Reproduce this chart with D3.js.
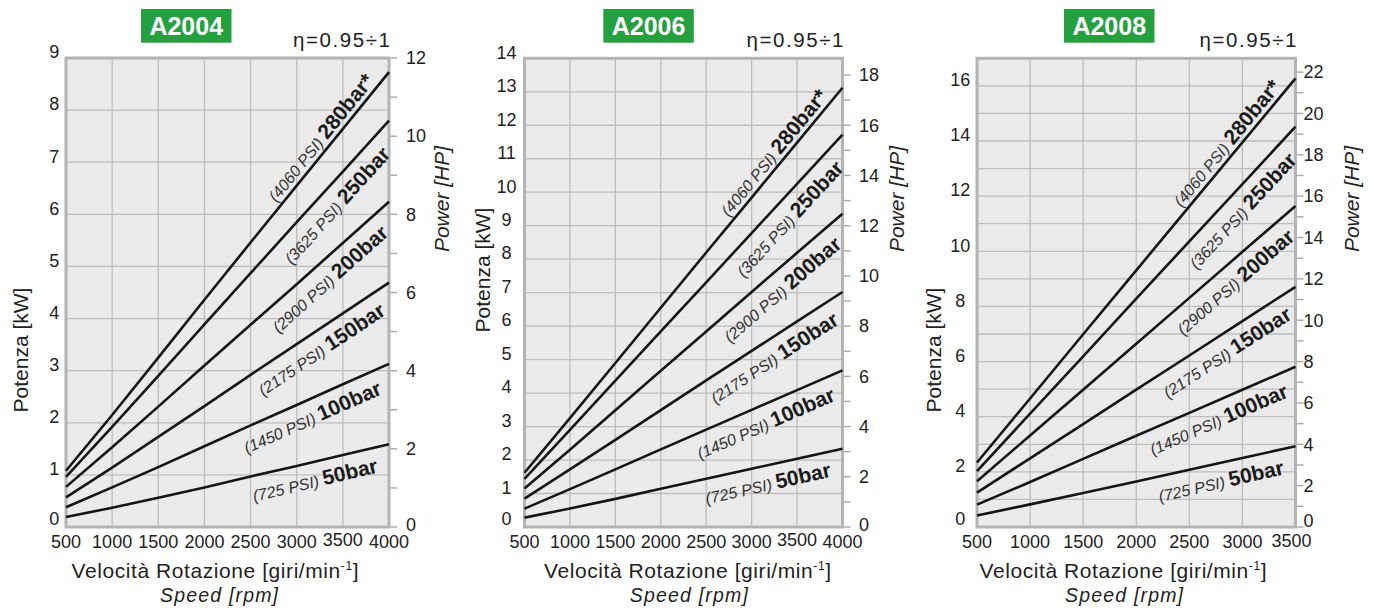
<!DOCTYPE html>
<html><head><meta charset="utf-8">
<script src="https://cdn.jsdelivr.net/npm/d3@7"></script>
<style>
body{margin:0;background:#fff;}
text{font-family:"Liberation Sans",Arial,Helvetica,sans-serif;}
</style>
</head><body>
<svg id="c" width="1377" height="610"></svg>
<script>
// ---------- DATA ----------
const modelNames = ["A2004", "A2006", "A2008"];
const psiLabels = ["(4060 PSI) ", "(3625 PSI) ", "(2900 PSI) ", "(2175 PSI) ", "(1450 PSI) ", "(725 PSI) "];
const barLabels = ["280bar*", "250bar", "200bar", "150bar", "100bar", "50bar"];
const efficiencyLabel = "η=0.95÷1";

const rpm4000 = [500, 1000, 1500, 2000, 2500, 3000, 3500, 4000];
const rpm3500 = [500, 1000, 1500, 2000, 2500, 3000, 3500];

// A2004 power [kW]
const A2004_280 = [1.08, 2.15, 3.25, 4.36, 5.46, 6.55, 7.64, 8.73];
const A2004_250 = [0.96, 1.92, 2.90, 3.89, 4.87, 5.85, 6.82, 7.80];
const A2004_200 = [0.77, 1.53, 2.31, 3.10, 3.88, 4.66, 5.45, 6.24];
const A2004_150 = [0.57, 1.14, 1.73, 2.32, 2.92, 3.51, 4.10, 4.69];
const A2004_100 = [0.38, 0.76, 1.15, 1.55, 1.95, 2.34, 2.74, 3.13];
const A2004_50  = [0.19, 0.37, 0.56, 0.76, 0.97, 1.17, 1.38, 1.59];

// A2006 power [kW]
const A2006_280 = [1.62, 3.25, 4.90, 6.55, 8.20, 9.84, 11.48, 13.12];
const A2006_250 = [1.44, 2.90, 4.37, 5.84, 7.31, 8.78, 10.25, 11.72];
const A2006_200 = [1.15, 2.31, 3.49, 4.67, 5.84, 7.02, 8.19, 9.36];
const A2006_150 = [0.85, 1.72, 2.60, 3.49, 4.38, 5.26, 6.14, 7.02];
const A2006_100 = [0.55, 1.13, 1.72, 2.32, 2.91, 3.50, 4.09, 4.68];
const A2006_50  = [0.28, 0.55, 0.84, 1.14, 1.44, 1.74, 2.04, 2.34];

// A2008 power [kW]
const A2008_280 = [2.34, 4.66, 6.99, 9.31, 11.63, 13.95, 16.27];
const A2008_250 = [2.03, 4.11, 6.19, 8.28, 10.36, 12.44, 14.52];
const A2008_200 = [1.66, 3.32, 4.98, 6.65, 8.31, 9.98, 11.64];
const A2008_150 = [1.25, 2.49, 3.73, 4.98, 6.22, 7.47, 8.71];
const A2008_100 = [0.81, 1.63, 2.47, 3.31, 4.14, 4.98, 5.81];
const A2008_50  = [0.42, 0.82, 1.23, 1.65, 2.08, 2.50, 2.93];

// axis ticks
const kwTicksA2004 = [0, 1, 2, 3, 4, 5, 6, 7, 8, 9];
const kwTicksA2006 = [0, 1, 2, 3, 4, 5, 6, 7, 8, 9, 10, 11, 12, 13, 14];
const kwGridA2008  = [0, 1, 2, 3, 4, 5, 6, 7, 8, 9, 10, 11, 12, 13, 14, 15, 16, 17];
const kwTicksA2008 = [0, 2, 4, 6, 8, 10, 12, 14, 16];
const hpTicksA2004 = [0, 1, 2, 3, 4, 5, 6, 7, 8, 9, 10, 11, 12];
const hpLabelsA2004 = [0, 2, 4, 6, 8, 10, 12];
const hpTicksA2006 = [0, 1, 2, 3, 4, 5, 6, 7, 8, 9, 10, 11, 12, 13, 14, 15, 16, 17, 18];
const hpLabelsA2006 = [0, 2, 4, 6, 8, 10, 12, 14, 16, 18];
const hpTicksA2008 = [0, 1, 2, 3, 4, 5, 6, 7, 8, 9, 10, 11, 12, 13, 14, 15, 16, 17, 18, 19, 20, 21, 22];
const hpLabelsA2008 = [0, 2, 4, 6, 8, 10, 12, 14, 16, 18, 20, 22];
const kwMaxes = [9, 14, 17];
const kwPerHp = 0.75;

// ---------- LAYOUT ----------
const panels = [
  {name: modelNames[0], rpm: rpm4000, series: [A2004_280, A2004_250, A2004_200, A2004_150, A2004_100, A2004_50],
   kwMax: kwMaxes[0], kwGrid: kwTicksA2004, kwLabels: kwTicksA2004, hpTicks: hpTicksA2004, hpLabels: hpLabelsA2004,
   x0: 66, x1: 389, y0: 527, y1: 58, boxX: 141, leftLabX: 54.3, hpLabX: 406, powerX: 441.7,
   potenzaX: 20.7, potenzaY: 350, velX: 215, speedX: 219, hp0Lift: 2, lastLabShift: 0, lastLabY: 545.5},
  {name: modelNames[1], rpm: rpm4000, series: [A2006_280, A2006_250, A2006_200, A2006_150, A2006_100, A2006_50],
   kwMax: kwMaxes[1], kwGrid: kwTicksA2006, kwLabels: kwTicksA2006, hpTicks: hpTicksA2006, hpLabels: hpLabelsA2006,
   x0: 524.5, x1: 842.5, y0: 527, y1: 58.3, boxX: 603.3, leftLabX: 506.5, hpLabX: 859, powerX: 896.7,
   potenzaX: 482.7, potenzaY: 270, velX: 687.5, speedX: 688.8, hp0Lift: 2, lastLabShift: 0, lastLabY: 545.5},
  {name: modelNames[2], rpm: rpm3500, series: [A2008_280, A2008_250, A2008_200, A2008_150, A2008_100, A2008_50],
   kwMax: kwMaxes[2], kwGrid: kwGridA2008, kwLabels: kwTicksA2008, hpTicks: hpTicksA2008, hpLabels: hpLabelsA2008,
   x0: 977, x1: 1295.5, y0: 527, y1: 58.3, boxX: 1064, leftLabX: 960.3, hpLabX: 1303.5, powerX: 1352,
   potenzaX: 933.7, potenzaY: 350, velX: 1123, speedX: 1124, hp0Lift: 6.5, lastLabShift: -4, lastLabY: 547}
];

const svg = d3.select("#c");
const TXT = "#222";
const TICK_FS = 18;

panels.forEach(p => {
  const g = svg.append("g");
  const x = d3.scaleLinear().domain(d3.extent(p.rpm)).range([p.x0, p.x1]);
  const y = d3.scaleLinear().domain([0, p.kwMax]).range([p.y0, p.y1]);
  const yHp = d3.scaleLinear().domain([0, p.kwMax / kwPerHp]).range([p.y0, p.y1]);

  // background
  g.append("rect").attr("x", p.x0).attr("y", p.y1).attr("width", p.x1 - p.x0).attr("height", p.y0 - p.y1)
    .attr("fill", "#ebebeb");
  // grid
  g.selectAll(".vg").data(p.rpm).join("line")
    .attr("x1", d => x(d)).attr("x2", d => x(d)).attr("y1", p.y1).attr("y2", p.y0)
    .attr("stroke", "#bebebe").attr("stroke-width", 1.3);
  g.selectAll(".hg").data(p.kwGrid).join("line")
    .attr("x1", p.x0).attr("x2", p.x1).attr("y1", d => y(d)).attr("y2", d => y(d))
    .attr("stroke", "#bebebe").attr("stroke-width", 1.3);
  // frame
  g.append("rect").attr("x", p.x0).attr("y", p.y1).attr("width", p.x1 - p.x0).attr("height", p.y0 - p.y1)
    .attr("fill", "none").attr("stroke", "#b4b4b4").attr("stroke-width", 3);

  // right HP ticks
  g.selectAll(".hpt").data(p.hpTicks).join("line")
    .attr("x1", p.x1 + 1.5).attr("x2", p.x1 + 8).attr("y1", d => yHp(d)).attr("y2", d => yHp(d))
    .attr("stroke", "#a8a8a8").attr("stroke-width", 1.4);
  g.selectAll(".hpl").data(p.hpLabels).join("text")
    .attr("x", p.hpLabX).attr("y", d => yHp(d) - (d === 0 ? p.hp0Lift : 0)).attr("dy", "0.35em")
    .attr("font-size", TICK_FS).attr("fill", TXT).text(d => d);

  // left kW labels
  g.selectAll(".kwl").data(p.kwLabels).join("text")
    .attr("x", p.leftLabX).attr("y", d => y(d) - (d === 0 ? 8 : 6)).attr("dy", "0.35em")
    .attr("text-anchor", "middle").attr("font-size", TICK_FS).attr("fill", TXT).text(d => d);

  // x labels (the 3500 label sits slightly higher in the original)
  const lastRpm = p.rpm[p.rpm.length - 1];
  g.selectAll(".xl").data(p.rpm).join("text")
    .attr("x", d => x(d) + (d === lastRpm ? p.lastLabShift : 0))
    .attr("y", d => d === 3500 ? p.lastLabY : 548)
    .attr("text-anchor", "middle").attr("font-size", TICK_FS).attr("fill", TXT).text(d => d);

  // series lines
  const line = d3.line().x((d, i) => x(p.rpm[i])).y(d => y(d));
  p.series.forEach((s, si) => {
    g.append("path").attr("d", line(s)).attr("fill", "none")
      .attr("stroke", "#151515").attr("stroke-width", 2.6).attr("stroke-linejoin", "round");
    // label along last segment
    const n = s.length;
    const xa = x(p.rpm[n - 2]), ya = y(s[n - 2]), xb = x(p.rpm[n - 1]), yb = y(s[n - 1]);
    const ang = Math.atan2(yb - ya, xb - xa) * 180 / Math.PI;
    const above = si === 0;
    const ax = p.x1 - (above ? 10 : 16);
    const ay = ya + (yb - ya) * (ax - xa) / (xb - xa);
    const t = g.append("text")
      .attr("transform", `translate(${ax},${ay}) rotate(${ang})`)
      .attr("x", 0).attr("y", above ? -5 : 25)
      .attr("text-anchor", "end");
    t.append("tspan").attr("font-style", "italic").attr("font-size", 16).attr("fill", "#333").text(psiLabels[si]);
    t.append("tspan").attr("font-weight", "bold").attr("font-size", 21).attr("fill", "#1a1a1a").text(barLabels[si]);
  });

  // title box
  g.append("rect").attr("x", p.boxX).attr("y", 9).attr("width", 90.5).attr("height", 33.7).attr("fill", "#24a040");
  g.append("text").attr("x", p.boxX + 45.25).attr("y", 35).attr("text-anchor", "middle")
    .attr("font-size", 25).attr("font-weight", "bold").attr("fill", "#fff").text(p.name);

  // efficiency
  g.append("text").attr("x", p.x1 + 1).attr("y", 46.5).attr("text-anchor", "end")
    .attr("font-size", 20.5).attr("fill", TXT).attr("textLength", 97).attr("lengthAdjust", "spacing")
    .text(efficiencyLabel);

  // axis titles
  g.append("text").attr("transform", `translate(${p.potenzaX},${p.potenzaY}) rotate(-90)`)
    .attr("text-anchor", "middle").attr("dy", "0.35em").attr("font-size", 21).attr("fill", TXT)
    .text("Potenza [kW]");
  g.append("text").attr("transform", `translate(${p.powerX},199) rotate(-90)`)
    .attr("text-anchor", "middle").attr("dy", "0.35em").attr("font-size", 21).attr("font-style", "italic")
    .attr("fill", TXT).text("Power [HP]");

  const vt = g.append("text").attr("x", p.velX).attr("y", 578.3).attr("text-anchor", "middle")
    .attr("font-size", 21).attr("fill", TXT).attr("textLength", 287).attr("lengthAdjust", "spacing");
  vt.append("tspan").text("Velocità Rotazione [giri/min");
  vt.append("tspan").attr("font-size", 12).attr("dy", -8).text("-1");
  vt.append("tspan").attr("dy", 8).text("]");

  g.append("text").attr("x", p.speedX).attr("y", 601.5).attr("text-anchor", "middle")
    .attr("font-size", 19.5).attr("font-style", "italic").attr("fill", TXT)
    .attr("textLength", 118).attr("lengthAdjust", "spacing").text("Speed [rpm]");
});
</script>
</body></html>
